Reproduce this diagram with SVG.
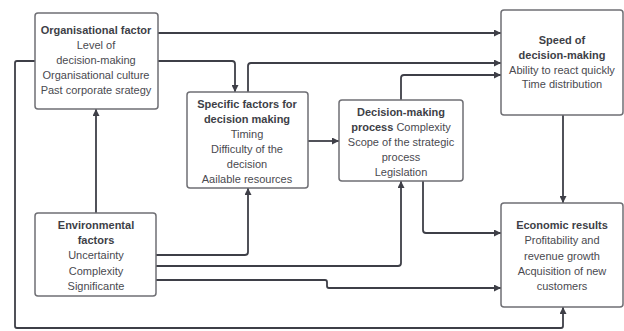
<svg xmlns="http://www.w3.org/2000/svg" width="624" height="331" viewBox="0 0 624 331">
<defs>
<marker id="ah" viewBox="0 0 10 10" refX="10" refY="5" markerWidth="7" markerHeight="7" orient="auto" markerUnits="userSpaceOnUse">
<path d="M0,0 L10,5 L0,10 z" fill="#3e3f47"/>
</marker>
<style>
.box{fill:#ffffff;stroke:#6f6f74;stroke-width:1.5}
.c{fill:none;stroke:#3e3f47;stroke-width:1.8;stroke-linejoin:round}
.a{marker-end:url(#ah)}
text{font-family:"Liberation Sans",Arial,sans-serif;font-size:11px;fill:#4a4a50;text-anchor:middle}
.b{font-weight:bold;fill:#3e3f47}
</style>
</defs>
<rect width="624" height="331" fill="#ffffff"/>
<g id="connectors">
<path class="c a" d="M158,33 H501"/>
<path class="c a" d="M158,61 H232 Q235,61 235,64 V92"/>
<path class="c a" d="M35,61 H17 Q15,61 15,63 V326 Q15,328 17,328 H561 Q563,328 563,326 V307"/>
<path class="c a" d="M96,213 V109"/>
<path class="c a" d="M248,92 V66 Q248,63 251,63 H501"/>
<path class="c a" d="M308,141 H339"/>
<path class="c a" d="M401,100 V78 Q401,75 404,75 H501"/>
<path class="c a" d="M423,181 V230 Q423,233 426,233 H501"/>
<path class="c a" d="M563,115 V203"/>
<path class="c a" d="M156,255 H245 Q248,255 248,252 V188"/>
<path class="c a" d="M156,266 H398 Q401,266 401,263 V181"/>
<path class="c a" d="M156,280 H325 Q327,280 327,282 V286 Q327,288 329,288 H501"/>
</g>
<g id="org">
<rect class="box" x="35" y="13" width="123" height="96" rx="3"/>
<text x="96" y="34" class="b">Organisational factor</text>
<text x="96" y="49">Level of</text>
<text x="96" y="64">decision-making</text>
<text x="96" y="79">Organisational culture</text>
<text x="96" y="94">Past corporate srategy</text>
</g>
<g id="specific">
<rect class="box" x="187" y="92" width="121" height="96" rx="3"/>
<text x="247" y="108" class="b">Specific factors for</text>
<text x="247" y="123" class="b">decision making</text>
<text x="247" y="138">Timing</text>
<text x="247" y="153">Difficulty of the</text>
<text x="247" y="168">decision</text>
<text x="247" y="183">Aailable resources</text>
</g>
<g id="decision">
<rect class="box" x="339" y="100" width="124" height="81" rx="3"/>
<text x="401" y="116" class="b">Decision-making</text>
<text x="401" y="131"><tspan class="b">process</tspan> Complexity</text>
<text x="401" y="146">Scope of the strategic</text>
<text x="401" y="161">process</text>
<text x="401" y="176">Legislation</text>
</g>
<g id="speed">
<rect class="box" x="501" y="10" width="122" height="105" rx="3"/>
<text x="562" y="44" class="b">Speed of</text>
<text x="562" y="59" class="b">decision-making</text>
<text x="562" y="74">Ability to react quickly</text>
<text x="562" y="88">Time distribution</text>
</g>
<g id="economic">
<rect class="box" x="501" y="203" width="122" height="104" rx="3"/>
<text x="562" y="229" class="b">Economic results</text>
<text x="562" y="244">Profitability and</text>
<text x="562" y="260">revenue growth</text>
<text x="562" y="275">Acquisition of new</text>
<text x="562" y="290">customers</text>
</g>
<g id="environmental">
<rect class="box" x="35" y="213" width="121" height="83" rx="3"/>
<text x="96" y="229" class="b">Environmental</text>
<text x="96" y="244" class="b">factors</text>
<text x="96" y="259">Uncertainty</text>
<text x="96" y="275">Complexity</text>
<text x="96" y="290">Significante</text>
</g>
</svg>
